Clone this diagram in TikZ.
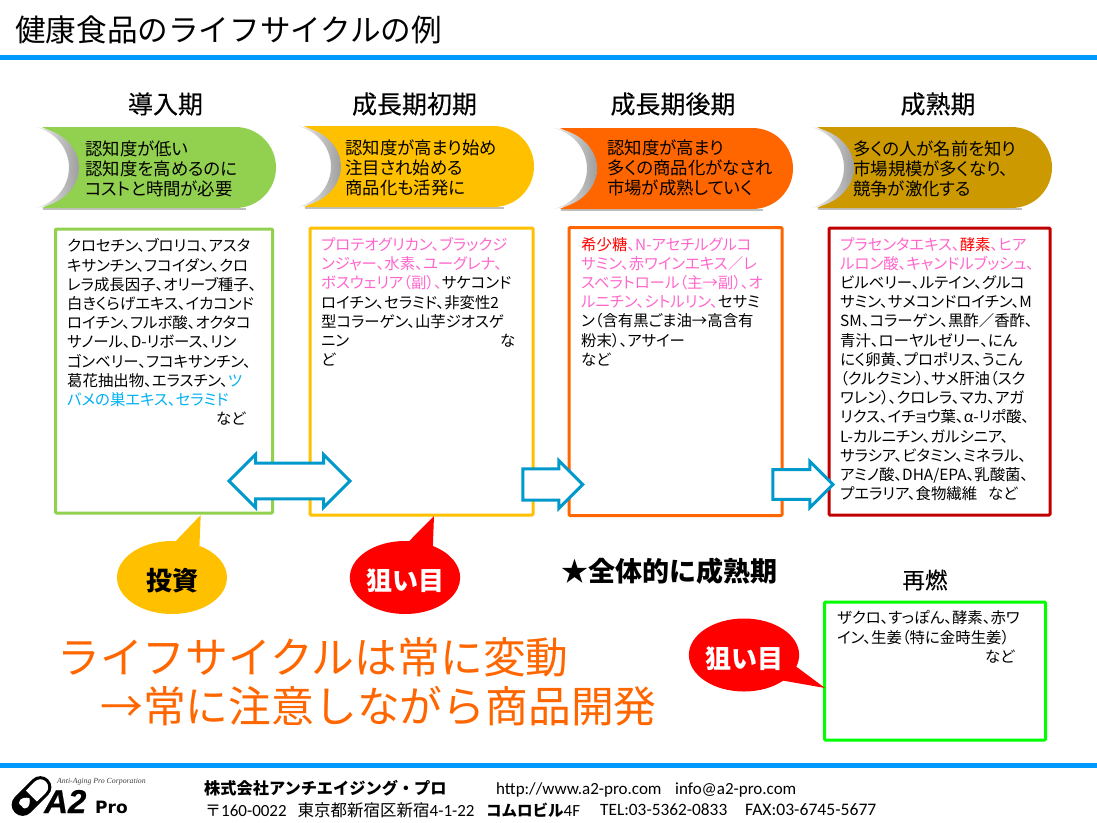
\documentclass[tikz,border=0pt]{standalone}
\usepackage{fontspec}
\usetikzlibrary{shapes.arrows,shapes.callouts}
\setmainfont{Noto Sans CJK JP}
\newfontfamily\listfont[RawFeature=+palt]{Noto Sans CJK JP}
\newfontfamily\medfont[FakeBold=0.25]{Noto Sans CJK JP}
\newfontfamily\latinfont{Carlito}
\newfontfamily\logofont[FakeBold=0.6]{Liberation Sans Bold Italic}
\definecolor{rulecol}{HTML}{0099FF}
\definecolor{introcol}{HTML}{92D050}
\definecolor{earlycol}{HTML}{FFC000}
\definecolor{latecol}{HTML}{FF6600}
\definecolor{maturecol}{HTML}{CC9900}
\definecolor{revivalcol}{HTML}{00FF00}
\definecolor{darkredcol}{HTML}{C00000}
\definecolor{arrowcol}{HTML}{0099CC}
\definecolor{pinktxt}{HTML}{FF66CC}
\definecolor{cyantxt}{HTML}{00B0F0}
\definecolor{oratxt}{HTML}{FF6600}
\newcommand{\pk}[1]{\textcolor{pinktxt}{#1}}
\newcommand{\cy}[1]{\textcolor{cyantxt}{#1}}
\newcommand{\rd}[1]{\textcolor{red}{#1}}
\newcommand{\bubbletext}[1]{\raisebox{-13pt}[0pt][0pt]{#1}}
\tikzset{
  stagehead/.style={font=\medfont\fontsize{25}{28}\selectfont,inner sep=0pt},
  bandtext/.style={anchor=north west,align=left,inner sep=0pt,font=\listfont\fontsize{17.4}{20}\selectfont},
  listbox/.style={draw,line width=3pt,rounded corners=1pt,anchor=north west,inner sep=0pt,outer sep=0pt},
  listtext/.style={anchor=north west,align=left,inner sep=0pt,font=\listfont\fontsize{15.4}{19.2}\selectfont},
  flowarrow/.style={draw=arrowcol,fill=white,line width=3pt,inner xsep=0pt,outer sep=0pt},
  bubble/.style={ellipse callout,minimum width=110pt,minimum height=73pt,inner sep=0pt,callout pointer arc=26,font=\bfseries\fontsize{26}{30}\selectfont},
  footlatin/.style={anchor=west,inner sep=0pt,font=\latinfont\fontsize{17}{18}\selectfont},
}
\begin{document}
\begin{tikzpicture}[x=1pt,y=-1pt]
\useasboundingbox (0,0) rectangle (1097,822);
% rules
\fill[rulecol] (0,55) rectangle (1097,60);
\fill[rulecol] (0,763) rectangle (1097,768);
\node[anchor=west,inner sep=0pt,font=\fontsize{30.6}{34}\selectfont] (title) at (15,30) {健康食品のライフサイクルの例};
% stage headings
\node[stagehead] (head1) at (165.5,104) {導入期};
\node[stagehead] (head2) at (414.5,104) {成長期初期};
\node[stagehead] (head3) at (673,104) {成長期後期};
\node[stagehead] (head4) at (938,104) {成熟期};
% bands
\foreach \bx/\by/\bw/\bcol in {35/127/241/introcol,297/126/237/earlycol,553/128/240/latecol,810/127/242/maturecol}{
  \begin{scope}[shift={(\bx,\by)}]
  \fill[black!25] (8,81) rectangle (\bw-30,83);
  \fill[\bcol] (7,0) -- (\bw-40.5,0) arc[start angle=90,end angle=-90,radius=40.5pt] -- (7,81)
    .. controls (30,70) and (44,55) .. (44,40.5) .. controls (44,26) and (30,11) .. (7,0);
  \shade[left color=black!6,right color=black!38] (0,0) .. controls (28,3) and (44,22) .. (44,40.5) .. controls (44,59) and (28,78) .. (0,81)
    .. controls (22,76) and (34,58) .. (34,40.5) .. controls (34,23) and (22,5) .. (0,0);
  \end{scope}
}
\node[bandtext] (band1) at (85,140.5) {認知度が低い\\認知度を高めるのに\\コストと時間が必要};
\node[bandtext] (band2) at (345,140) {認知度が高まり始め\\注目され始める\\商品化も活発に};
\node[bandtext] (band3) at (607,140) {認知度が高まり\\多くの商品化がなされ\\市場が成熟していく};
\node[bandtext] (band4) at (853,141) {多くの人が名前を知り\\市場規模が多くなり、\\競争が激化する};
% boxes
\node[listbox,draw=introcol,minimum width=217pt,minimum height=284pt] (box1) at (55.5,229) {};
\node[listbox,draw=earlycol,minimum width=223pt,minimum height=287pt] (box2) at (310,228) {};
\node[listbox,draw=latecol,minimum width=213pt,minimum height=288pt] (box3) at (569,227.5) {};
\node[listbox,draw=darkredcol,minimum width=221pt,minimum height=287pt] (box4) at (829,228) {};
\node[listbox,draw=revivalcol,minimum width=221pt,minimum height=138pt] (box5) at (824.5,602) {};
% arrows
\node[flowarrow,double arrow,inner ysep=13.5pt,minimum height=121pt,minimum width=53pt] (swing) at (289.5,481) {};
\node[flowarrow,single arrow,inner ysep=11.5pt,minimum height=60pt,minimum width=48pt] (step1) at (545,484.5) {};
\node[flowarrow,single arrow,inner ysep=11.5pt,minimum height=60pt,minimum width=46pt] (step2) at (795.5,484.5) {};
% lists
\node[listtext] (list1) at (67,238.5) {クロセチン、ブロリコ、アスタ\\キサンチン、フコイダン、クロ\\レラ成長因子、オリーブ種子、\\白きくらげエキス、イカコンド\\ロイチン、フルボ酸、オクタコ\\サノール、D-リボース、リン\\ゴンベリー、フコキサンチン、\\葛花抽出物、エラスチン、\cy{ツ}\\\cy{バメの巣エキス、セラミド}\\\hspace*{149pt}など};
\node[listtext] (list2) at (321,237) {\pk{プロテオグリカン、ブラックジ}\\\pk{ンジャー、水素、ユーグレナ、}\\\pk{ボスウェリア（副）、}サケコンド\\ロイチン、セラミド、非変性2\\型コラーゲン、山芋ジオスゲ\\ニン\hspace*{151pt}な\\ど};
\node[listtext] (list3) at (581,237) {\rd{希少糖}\pk{、N-アセチルグルコ}\\\pk{サミン、赤ワインエキス／レ}\\\pk{スベラトロール（主→副）、オ}\\\pk{ルニチン、シトルリン、}セサミ\\ン（含有黒ごま油→高含有\\粉末）、アサイー\\など};
\node[listtext] (list4) at (840,237) {\pk{プラセンタエキス、}\rd{酵素}\pk{、ヒア}\\\pk{ルロン酸、キャンドルブッシュ、}\\ビルベリー、ルテイン、グルコ\\サミン、サメコンドロイチン、M\\SM、コラーゲン、黒酢／香酢、\\青汁、ローヤルゼリー、にん\\にく卵黄、プロポリス、うこん\\（クルクミン）、サメ肝油（スク\\ワレン）、クロレラ、マカ、アガ\\リクス、イチョウ葉、α-リポ酸、\\L-カルニチン、ガルシニア、\\サラシア、ビタミン、ミネラル、\\アミノ酸、DHA/EPA、乳酸菌、\\プエラリア、食物繊維\hspace*{11pt}など};
\node[listtext] (list5) at (837,610.5) {ザクロ、すっぽん、酵素、赤ワ\\イン、生姜（特に金時生姜）\\\hspace*{148pt}など};
% callouts
\node[bubble,fill=earlycol,callout absolute pointer={(200.7,515)}] (invest) at (172,577.5) {\bubbletext{投資}};
\node[bubble,fill=red,text=white,callout absolute pointer={(434,516)}] (target1) at (405,577.5) {\bubbletext{狙い目}};
\node[bubble,fill=red,text=white,callout absolute pointer={(825,688)}] (target2) at (744,655) {\bubbletext{狙い目}};
% notes
\node[inner sep=0pt,font=\bfseries\fontsize{27}{30}\selectfont] (overall) at (669.5,571) {★全体的に成熟期};
\node[inner sep=0pt,font=\medfont\fontsize{22.5}{26}\selectfont] (revival) at (925,580) {再燃};
\node[anchor=north west,align=left,inner sep=0pt,text=oratxt,font=\fontsize{42.8}{49}\selectfont] (slogan) at (57,637.5) {ライフサイクルは常に変動\\\hspace*{43pt}→常に注意しながら商品開発};
% logo
\begin{scope}[shift={(31.5,796)},rotate=45]
\fill[black,rounded corners=9.5pt] (-22,-9.5) rectangle (10,9.5);
\fill[white] (0,-8) rectangle (12,8);
\draw[line width=3pt,rounded corners=9.5pt] (-22,-9.5) rectangle (22,9.5);
\fill[white] (-3,0) .. controls (-7,-7) and (-16,-7) .. (-14,0) .. controls (-16,7) and (-7,7) .. (-3,0);
\end{scope}
\node[anchor=base west,inner sep=0pt,font=\logofont\fontsize{33}{33}\selectfont] (logoa) at (44,813) {A2};
\node[anchor=base west,inner sep=0pt,font=\fontspec{DejaVu Sans Bold}\fontsize{17}{17}\selectfont] (logob) at (95,813) {Pro};
\node[anchor=west,inner sep=0pt,text=black!75,font=\fontspec{Liberation Serif Italic}\fontsize{7.8}{9}\selectfont] (logoc) at (57,782) {Anti-Aging Pro Corporation};
% footer
\node[anchor=west,inner sep=0pt,font=\bfseries\fontsize{16.2}{18}\selectfont] (firm) at (204,788) {株式会社アンチエイジング・プロ};
\node[footlatin] (web) at (496,790) {http://www.a2-pro.com};
\node[footlatin] (mail) at (675,790) {info@a2-pro.com};
\node[footlatin] (addr) at (205,810) {{\rmfamily\fontsize{16}{18}\selectfont 〒}160-0022\hspace{11pt}{\rmfamily\fontsize{16.5}{18}\selectfont 東京都新宿区新宿}4-1-22};
\node[footlatin] (bldg) at (486,810) {{\rmfamily\bfseries\fontsize{15.5}{18}\selectfont コムロビル}4F};
\node[footlatin,font=\latinfont\fontsize{17.3}{18}\selectfont] (tel) at (600,810) {TEL:03-5362-0833};
\node[footlatin,font=\latinfont\fontsize{17.6}{18}\selectfont] (fax) at (745,810) {FAX:03-6745-5677};
\end{tikzpicture}
\end{document}
